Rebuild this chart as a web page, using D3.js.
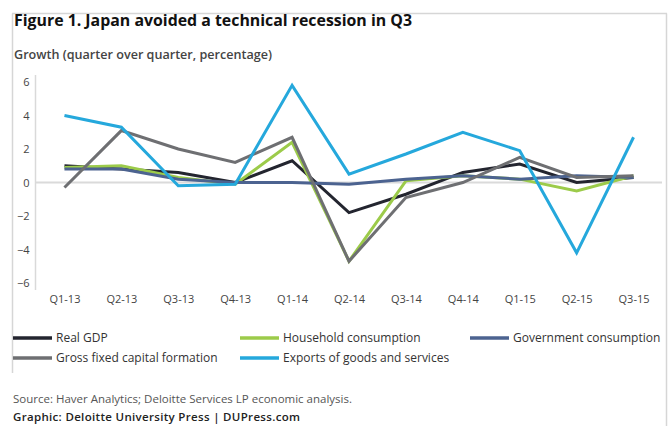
<!DOCTYPE html>
<html>
<head>
<meta charset="utf-8">
<script src="https://cdn.jsdelivr.net/npm/d3@7"></script>
<style>
  html, body { margin: 0; padding: 0; background: #fff; }
  svg { display: block; font-family: "Open Sans", "Noto Sans", sans-serif; }
</style>
</head>
<body>
<svg id="chart" width="672" height="426"></svg>
<script>
// Quarterly growth, quarter over quarter (%)
const quarters = ["Q1-13", "Q2-13", "Q3-13", "Q4-13", "Q1-14", "Q2-14", "Q3-14", "Q4-14", "Q1-15", "Q2-15", "Q3-15"];
const realGDP      = [1.0, 0.8, 0.6, 0.0, 1.3, -1.8, -0.7, 0.6, 1.1, 0.0, 0.3];
const household    = [0.9, 1.0, 0.3, -0.1, 2.4, -4.7, 0.1, 0.4, 0.2, -0.5, 0.4];
const government   = [0.8, 0.8, 0.2, 0.0, 0.0, -0.1, 0.2, 0.4, 0.2, 0.4, 0.3];
const gfcf         = [-0.3, 3.1, 2.0, 1.2, 2.7, -4.7, -0.9, 0.0, 1.5, 0.3, 0.4];
const exportsGS    = [4.0, 3.3, -0.2, -0.1, 5.8, 0.5, 1.7, 3.0, 1.9, -4.2, 2.7];
const yTicks = [6, 4, 2, 0, -2, -4, -6];

const seriesNames  = ["Real GDP", "Household consumption", "Government consumption", "Gross fixed capital formation", "Exports of goods and services"];
const seriesValues = [realGDP, household, government, gfcf, exportsGS];
const seriesColors = ["#23252f", "#9ccb4a", "#4c6390", "#6e6f72", "#25a8dc"];

const series = seriesNames.map((name, i) => ({ name, values: seriesValues[i], color: seriesColors[i] }));

const svg = d3.select("#chart");

// Outer frame
const frame = svg.append("g").attr("stroke", "#d6d6d6").attr("stroke-width", 1.5).attr("fill", "none");
frame.append("line").attr("x1", 12).attr("x2", 667).attr("y1", 13.5).attr("y2", 13.5);
frame.append("line").attr("x1", 12.5).attr("x2", 12.5).attr("y1", 13.5).attr("y2", 373);
frame.append("line").attr("x1", 666.5).attr("x2", 666.5).attr("y1", 13.5).attr("y2", 426);

// Title and subtitle
svg.append("text")
  .attr("x", 14).attr("y", 26)
  .attr("font-size", 16).attr("font-weight", 700).attr("fill", "#111")
  .attr("textLength", 398).attr("lengthAdjust", "spacingAndGlyphs")
  .text("Figure 1. Japan avoided a technical recession in Q3");

svg.append("text")
  .attr("x", 14).attr("y", 59)
  .attr("font-size", 12).attr("font-weight", 600).attr("fill", "#444")
  .attr("textLength", 258).attr("lengthAdjust", "spacingAndGlyphs")
  .text("Growth (quarter over quarter, percentage)");

// Scales
const x = d3.scalePoint().domain(quarters).range([36, 662]).padding(0.5);
const y = d3.scaleLinear().domain([-6, 6]).range([283, 82]);

// Y axis (labels + vertical rule)
const yAxis = d3.axisLeft(y).tickValues(yTicks).tickSize(0).tickPadding(6).tickFormat(d3.format("d"));
const gy = svg.append("g").attr("transform", "translate(35.5,0)").call(yAxis);
gy.select(".domain").attr("stroke", "#d9d9d9").attr("stroke-width", 1.5).attr("d", "M0,75V290");
gy.selectAll("text").attr("font-size", 11).attr("fill", "#444").attr("font-family", "Open Sans, sans-serif");

// Zero line
svg.append("line")
  .attr("x1", 36).attr("x2", 662)
  .attr("y1", y(0)).attr("y2", y(0))
  .attr("stroke", "#dadada").attr("stroke-width", 2);

// X axis labels
const xAxis = d3.axisBottom(x).tickSize(0).tickPadding(0);
const gx = svg.append("g").attr("transform", "translate(0,295)").call(xAxis);
gx.select(".domain").remove();
gx.selectAll("text").attr("font-size", 11).attr("fill", "#444").attr("font-family", "Open Sans, sans-serif");

// Lines
const line = d3.line().x((d, i) => x(quarters[i])).y(d => y(d));
svg.append("g").selectAll("path")
  .data(series)
  .join("path")
  .attr("d", d => line(d.values))
  .attr("fill", "none")
  .attr("stroke", d => d.color)
  .attr("stroke-width", 3)
  .attr("stroke-linejoin", "miter");

// Legend
const legendPos = [[13, 338], [240, 338], [470, 338], [13, 358], [240, 358]];
const lg = svg.append("g").selectAll("g")
  .data(series)
  .join("g")
  .attr("transform", (d, i) => `translate(${legendPos[i][0]},${legendPos[i][1]})`);
lg.append("line")
  .attr("x1", 0).attr("x2", 39)
  .attr("y1", 0).attr("y2", 0)
  .attr("stroke", d => d.color).attr("stroke-width", 3.5);
lg.append("text")
  .attr("x", 43).attr("y", 0).attr("dy", "0.35em")
  .attr("font-size", 12).attr("fill", "#333")
  .text(d => d.name);

// Source notes
svg.append("text")
  .attr("x", 13).attr("y", 403)
  .attr("font-size", 11.5).attr("fill", "#555")
  .text("Source: Haver Analytics; Deloitte Services LP economic analysis.");

svg.append("text")
  .attr("x", 13).attr("y", 421)
  .attr("font-size", 11.5).attr("font-weight", 600).attr("fill", "#222")
  .attr("textLength", 287).attr("lengthAdjust", "spacing")
  .text("Graphic: Deloitte University Press  |  DUPress.com");
</script>
</body>
</html>
